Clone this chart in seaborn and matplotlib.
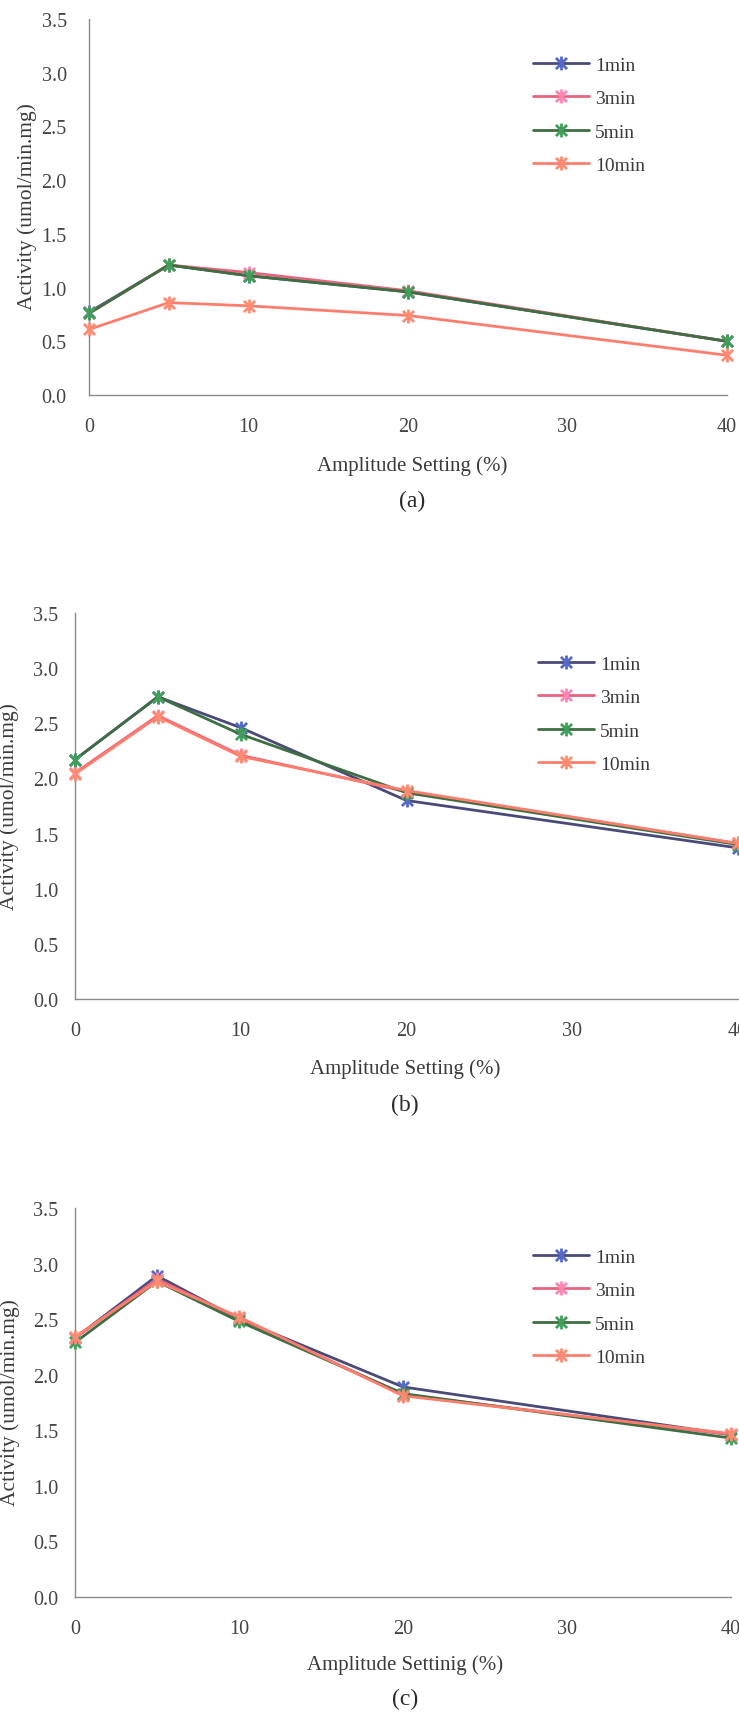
import numpy as np
import pandas as pd
import matplotlib
matplotlib.use("Agg")
import matplotlib.pyplot as plt
from matplotlib.path import Path
import seaborn as sns

# Sonication amplitude settings (%)
amplitude = [0, 5, 10, 20, 40]
series_names = ["1min", "3min", "5min", "10min"]

# Panel (a)
a_1min = [0.77, 1.21, 1.11, 0.96, 0.50]
a_3min = [0.76, 1.21, 1.14, 0.97, 0.50]
a_5min = [0.76, 1.21, 1.11, 0.96, 0.50]
a_10min = [0.61, 0.86, 0.83, 0.74, 0.37]

# Panel (b)
b_1min = [2.17, 2.74, 2.46, 1.80, 1.37]
b_3min = [2.05, 2.57, 2.21, 1.88, 1.41]
b_5min = [2.17, 2.74, 2.40, 1.87, 1.40]
b_10min = [2.04, 2.56, 2.20, 1.89, 1.41]

# Panel (c)
c_1min = [2.33, 2.89, 2.50, 1.89, 1.46]
c_3min = [2.33, 2.86, 2.51, 1.82, 1.46]
c_5min = [2.29, 2.84, 2.48, 1.83, 1.43]
c_10min = [2.34, 2.84, 2.52, 1.81, 1.47]

y_ticks = [0.0, 0.5, 1.0, 1.5, 2.0, 2.5, 3.0, 3.5]
x_ticks = [0, 10, 20, 30, 40]
y_label = "Activity (umol/min.mg)"
x_labels = ["Amplitude Setting (%)", "Amplitude Setting (%)", "Amplitude Settinig (%)"]
captions = ["(a)", "(b)", "(c)"]

line_colors = ["#4a4a78", "#e8647e", "#3e6e42", "#ff7d6c"]
marker_colors = ["#5468c8", "#ff86b4", "#3f9e58", "#ff8c72"]

sns.set_theme(style="white")
plt.rcParams["font.family"] = ["Liberation Serif", "DejaVu Serif"]
plt.rcParams["text.color"] = "#3a3a3a"

# asterisk marker: X plus vertical bar
star_path = Path(
    [(-1, -1), (1, 1), (-1, 1), (1, -1), (0, -1.25), (0, 1.25)],
    [Path.MOVETO, Path.LINETO, Path.MOVETO, Path.LINETO, Path.MOVETO, Path.LINETO],
)

W, H = 739, 1715
fig = plt.figure(figsize=(W / 100, H / 100), dpi=100)


def px_rect(left, right, top, bottom):
    return [left / W, 1 - bottom / H, (right - left) / W, (bottom - top) / H]


panels = [
    dict(rect=px_rect(89, 727, 20, 396), data=[a_1min, a_3min, a_5min, a_10min],
         legend=(533, 57), ylab=(27, 207), xlab=(412, 466), cap=(412, 501)),
    dict(rect=px_rect(75, 738, 614, 1000), data=[b_1min, b_3min, b_5min, b_10min],
         legend=(538, 656), ylab=(9, 807), xlab=(405, 1069), cap=(405, 1105)),
    dict(rect=px_rect(75, 731, 1209, 1598), data=[c_1min, c_3min, c_5min, c_10min],
         legend=(533, 1249), ylab=(10, 1403), xlab=(405, 1665), cap=(405, 1699)),
]

for i, p in enumerate(panels):
    ax = fig.add_axes(p["rect"])
    ax.set_facecolor("white")
    frames = []
    for name, vals in zip(series_names, p["data"]):
        frames.append(pd.DataFrame({"amp": amplitude, "act": vals, "series": name}))
    df = pd.concat(frames, ignore_index=True)
    for k, name in enumerate(series_names):
        sub = df[df["series"] == name]
        sns.lineplot(data=sub, x="amp", y="act", ax=ax, color=line_colors[k],
                     linewidth=2.0, marker=star_path, markersize=10,
                     markeredgewidth=2.0, markeredgecolor=marker_colors[k],
                     label=name, zorder=3 + k, clip_on=False)

    ax.set_xlim(0, 40)
    ax.set_ylim(0, 3.5)
    ax.set_xticks(x_ticks)
    ax.set_yticks(y_ticks)
    ax.set_yticklabels([f"{v:.1f}" for v in y_ticks])
    for s in ["top", "right"]:
        ax.spines[s].set_visible(False)
    for s in ["left", "bottom"]:
        ax.spines[s].set_color("#8a8a8a")
        ax.spines[s].set_linewidth(1.0)
    ax.tick_params(axis="both", which="major", direction="out", length=4,
                   width=1.0, color="#8a8a8a", labelsize=14.5, labelcolor="#444444")
    ax.tick_params(axis="x", pad=12)
    ax.tick_params(axis="y", pad=12 if i == 0 else 8)

    ax.set_xlabel("")
    ax.set_ylabel("")
    lx, ly = p["ylab"]
    fig.text(lx / W, 1 - ly / H, y_label, rotation=90, ha="center", va="center",
             fontsize=15.5, color="#3a3a3a")
    xx, xy = p["xlab"]
    fig.text(xx / W, 1 - xy / H, x_labels[i], ha="center", va="center",
             fontsize=15, color="#3a3a3a")
    cx, cy = p["cap"]
    fig.text(cx / W, 1 - cy / H, captions[i], ha="center", va="center",
             fontsize=17, color="#2a2a2a")

    gx, gy = p["legend"]
    leg = ax.legend(loc="upper left", bbox_to_anchor=(gx / W, 1 - gy / H),
                    bbox_transform=fig.transFigure, frameon=False, fontsize=14,
                    handlelength=2.9, handletextpad=0.3, labelspacing=0.82,
                    borderpad=0, borderaxespad=0)
    for t in leg.get_texts():
        t.set_color("#3a3a3a")

fig.savefig("out.png", dpi=100, facecolor="white")
